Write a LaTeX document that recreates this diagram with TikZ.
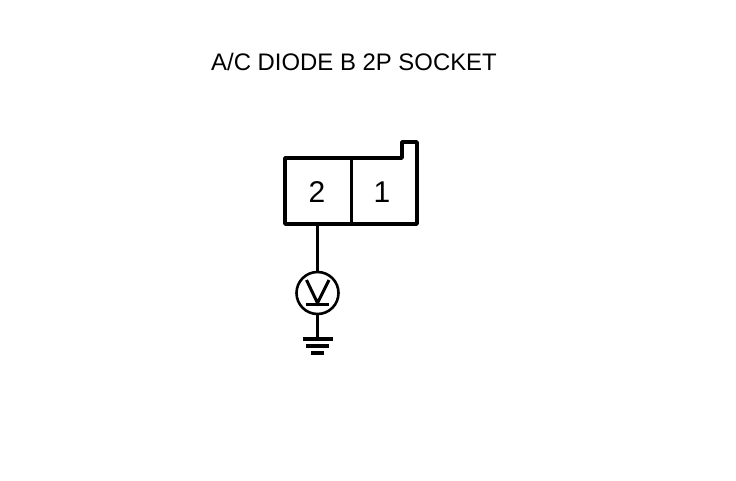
\documentclass[tikz,border=0pt]{standalone}
\usepackage{fontspec}
\setmainfont{Liberation Sans}
\usetikzlibrary{arrows,positioning}
\tikzset{
    %Define style for title text
    title/.style={
           inner sep=0pt,
           font=\fontsize{23.9}{26}\selectfont,
           text centered},
    %Define style for pin numbers
    pin/.style={
           inner sep=0pt,
           font=\fontsize{30}{32}\selectfont,
           text centered},
    %Define style for tester circle
    meter/.style={
           circle,
           draw=black,
           line width=2.6pt,
           inner sep=0pt,
           minimum size=42pt},
    % Define line styles
    shell/.style={
           line width=3.8pt,
           line join=round},
    wire/.style={
           line width=3pt},
    ground/.style={
           line width=3.4pt}
}

\begin{document}
\begin{tikzpicture}[x=1pt,y=-1pt]
\useasboundingbox (0,0) rectangle (736,480);
\node[title](head) at (354,62){A/C DIODE B 2P SOCKET};
\node[pin](2) at (317,192){2};
\node[pin](1) at (382,192){1};
\node[meter](3) at (317.5,293){};
\coordinate (top) at (351.5,158);
\coordinate (bottom) at (351.5,224);
\coordinate (lead) at (317.5,224);
\coordinate (earth) at (317.5,339);
\coordinate (tip) at (317.5,303);
\coordinate (vl) at (306.5,280);
\coordinate (vr) at (329,280);
\coordinate (barl) at (306,304.5);
\coordinate (barr) at (329,304.5);
% socket
\draw[shell] (285,158) -- (402,158) -- (402,142) -- (417,142) -- (417,224) -- (285,224) -- cycle;
\draw[wire] (top) -- (bottom);
% lead and tester
\draw[wire] (lead) -- (3);
\draw[wire] (3) -- (earth);
\draw[wire] (vl) -- (tip) -- (vr);
\draw[wire] (barl) -- (barr);
% earth bars
\draw[ground] (302.5,339) -- (332.5,339);
\draw[ground] (306,346) -- (329,346);
\draw[ground] (311,353) -- (324,353);
\end{tikzpicture}
\end{document}
